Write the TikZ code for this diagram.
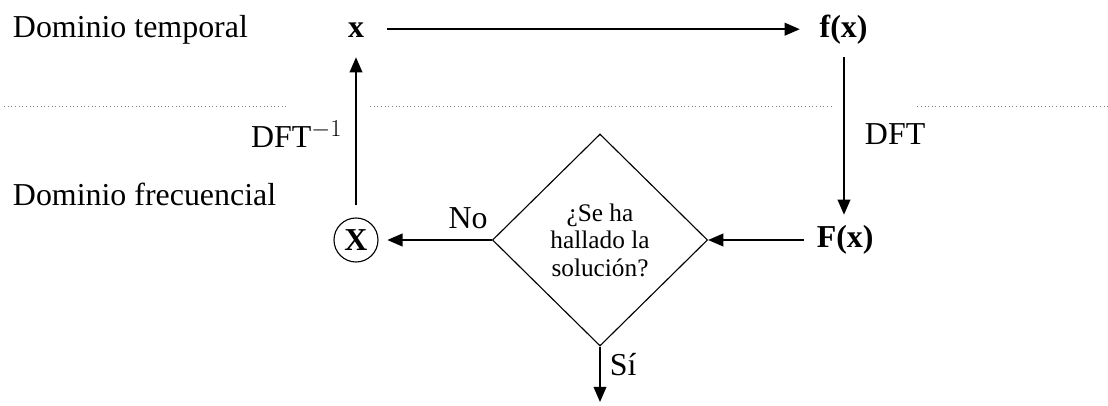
\documentclass[tikz,border=0pt]{standalone}
\usepackage{fontspec}
\setmainfont{Liberation Serif}
\usetikzlibrary{arrows.meta, shapes.geometric}

\begin{document}
\begin{tikzpicture}[
  font=\fontsize{22.7}{27}\selectfont,
  var/.style={font=\fontsize{22.7}{27}\selectfont\bfseries, text height=0.55cm, text depth=0.16cm, inner sep=2pt},
  decision/.style={draw, diamond, line width=0.8pt, minimum width=5.38cm, minimum height=5.3cm, inner sep=0pt, align=center, font=\fontsize{18}{19.5}\selectfont},
  arrow/.style={-{Triangle[length=0.38cm,width=0.32cm]}, line width=1pt},
  sep/.style={dotted, gray, line width=0.6pt}
]
\useasboundingbox (0,0) rectangle (27.7,-10.125);

% Nodes
\node[anchor=west] (time) at (0.2,-0.75) {Dominio temporal};
\node[anchor=west] (freq) at (0.2,-4.85) {Dominio frecuencial};
\node[var] (x) at (8.9,-0.73) {x};
\node[var] (fx) at (21.09,-0.73) {f(x)};
\node[var] (Fx) at (21.13,-6.0) {F(x)};
\node[decision] (dec) at (15.0,-6.0) {¿Se ha\\hallado la\\solución?};
\node[draw, circle, line width=0.8pt, minimum size=1.1cm, inner sep=0pt, font=\fontsize{22.7}{27}\selectfont\bfseries] (cx) at (8.9,-6.0) {X};
\node[anchor=west] (dft) at (21.5,-3.35) {DFT};
\node[anchor=east] (idft) at (8.68,-3.35) {DFT$^{-1}$};
\node (no) at (11.7,-5.45) {No};
\node[anchor=west] (si) at (15.12,-9.12) {Sí};
\coordinate (out) at (15.0,-10.05);

% Separator
\draw[sep] (0.1,-2.65) -- (7.18,-2.65);
\draw[sep] (9.25,-2.65) -- (20.78,-2.65);
\draw[sep] (22.93,-2.65) -- (27.7,-2.65);

% Pointers
\draw[arrow, shorten <=0.5cm, shorten >=0.42cm] (x) -- (fx);
\draw[arrow, shorten <=0.27cm, shorten >=0.2cm] (fx.south -| 21.1,0) -- (Fx.north -| 21.1,0);
\draw[arrow, shorten <=0.25cm] (Fx) -- (dec.east);
\draw[arrow, shorten >=0.22cm] (dec.west) -- (cx.east);
\draw[arrow, shorten <=0.3cm, shorten >=0.27cm] (cx) -- (x);
\draw[arrow] (dec.south) -- (out);
\end{tikzpicture}
\end{document}
